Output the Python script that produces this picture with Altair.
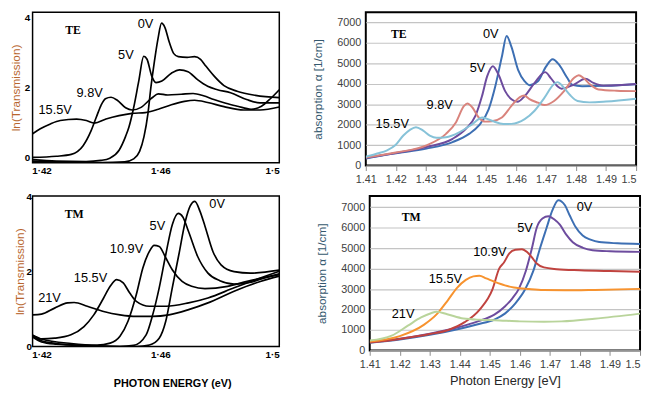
import altair as alt
import pandas as pd

# ---------------- TE transmission (left, top) ----------------
te_tr_0v_x = [1.417, 1.43, 1.44, 1.448, 1.451, 1.453, 1.4545, 1.4558, 1.4568, 1.458, 1.4592, 1.4604, 1.4615, 1.463, 1.4645, 1.466, 1.469, 1.4715, 1.4735, 1.4748, 1.4765, 1.4781, 1.4814, 1.4858, 1.492, 1.5]
te_tr_0v_y = [0.04, 0.01, 0.0, 0.02, 0.1, 0.3, 0.7, 1.3, 2.0, 2.7, 3.3, 3.71, 3.6, 3.2, 2.9, 2.82, 2.8, 2.82, 2.75, 2.62, 2.45, 2.3, 2.05, 1.9, 1.79, 1.73]
te_tr_5v_x = [1.417, 1.425, 1.435, 1.44, 1.443, 1.4461, 1.4483, 1.4494, 1.451, 1.4527, 1.4544, 1.4555, 1.4571, 1.4585, 1.4605, 1.4637, 1.4665, 1.4693, 1.4726, 1.4759, 1.4792, 1.4836, 1.489, 1.4935, 1.5]
te_tr_5v_y = [0.08, 0.04, 0.03, 0.06, 0.12, 0.33, 0.7, 0.94, 1.46, 2.16, 2.83, 2.75, 2.3, 2.13, 2.17, 2.38, 2.47, 2.42, 2.2, 2.03, 1.94, 1.86, 1.68, 1.59, 1.59]
te_tr_98v_x = [1.417, 1.425, 1.43, 1.434, 1.4367, 1.4384, 1.44, 1.4415, 1.4434, 1.4455, 1.4483, 1.4505, 1.4535, 1.4571, 1.4593, 1.4625, 1.467, 1.471, 1.4745, 1.478, 1.482, 1.486, 1.4905, 1.494, 1.497, 1.5]
te_tr_98v_y = [0.14, 0.17, 0.22, 0.45, 0.85, 1.2, 1.52, 1.7, 1.74, 1.66, 1.46, 1.4, 1.47, 1.72, 1.83, 1.8, 1.82, 1.84, 1.78, 1.68, 1.58, 1.5, 1.42, 1.5, 1.7, 1.94]
te_tr_155v_x = [1.417, 1.4196, 1.423, 1.4263, 1.4318, 1.4351, 1.4378, 1.4417, 1.4461, 1.4505, 1.4549, 1.4593, 1.4637, 1.4681, 1.4715, 1.4759, 1.4814, 1.488, 1.4935, 1.5]
te_tr_155v_y = [0.77, 0.9, 1.03, 1.12, 1.16, 1.12, 1.05, 1.16, 1.25, 1.31, 1.33, 1.42, 1.54, 1.63, 1.66, 1.6, 1.49, 1.4, 1.4, 1.48]

# ---------------- TM transmission (left, bottom) ----------------
tm_tr_0v_x = [1.417, 1.42, 1.425, 1.435, 1.445, 1.452, 1.4563, 1.4596, 1.4618, 1.464, 1.4662, 1.4684, 1.47, 1.4716, 1.4733, 1.475, 1.4777, 1.4804, 1.4848, 1.4903, 1.5]
tm_tr_0v_y = [0.25, 0.12, 0.06, 0.02, 0.0, 0.0, 0.04, 0.22, 0.67, 1.56, 2.44, 3.33, 3.73, 3.86, 3.6, 3.2, 2.52, 2.17, 1.99, 1.95, 2.03]
tm_tr_5v_x = [1.417, 1.42, 1.425, 1.435, 1.4464, 1.451, 1.4552, 1.4574, 1.4596, 1.4618, 1.464, 1.466, 1.4675, 1.4695, 1.4725, 1.476, 1.48, 1.4848, 1.49, 1.495, 1.5]
tm_tr_5v_y = [0.28, 0.15, 0.08, 0.03, 0.0, 0.03, 0.31, 0.84, 1.56, 2.44, 3.24, 3.54, 3.45, 3.05, 2.4, 1.95, 1.75, 1.66, 1.7, 1.82, 1.93]
tm_tr_109v_x = [1.417, 1.42, 1.43, 1.4387, 1.4431, 1.4464, 1.4491, 1.4519, 1.4541, 1.4563, 1.4579, 1.4596, 1.4618, 1.464, 1.4673, 1.4705, 1.475, 1.4826, 1.4892, 1.5]
tm_tr_109v_y = [0.3, 0.2, 0.08, 0.04, 0.09, 0.27, 0.67, 1.38, 2.09, 2.53, 2.69, 2.66, 2.36, 2.04, 1.73, 1.6, 1.54, 1.6, 1.73, 1.91]
tm_tr_155v_x = [1.417, 1.42, 1.4244, 1.4299, 1.4343, 1.4376, 1.4409, 1.4431, 1.4453, 1.4475, 1.4497, 1.4519, 1.4563, 1.462, 1.4695, 1.476, 1.4848, 1.4936, 1.5]
tm_tr_155v_y = [0.3, 0.2, 0.22, 0.31, 0.53, 0.84, 1.29, 1.6, 1.78, 1.69, 1.42, 1.2, 1.07, 1.07, 1.16, 1.29, 1.56, 1.82, 2.0]
tm_tr_21v_x = [1.417, 1.42, 1.4244, 1.4288, 1.431, 1.4354, 1.4409, 1.4464, 1.4519, 1.4574, 1.4629, 1.4695, 1.476, 1.4848, 1.4936, 1.5]
tm_tr_21v_y = [0.84, 0.86, 1.02, 1.16, 1.17, 1.07, 0.93, 0.84, 0.8, 0.8, 0.84, 0.98, 1.16, 1.47, 1.73, 1.87]

# ---------------- TE absorption (right, top) ----------------
te_ab_0v_x = [1.41, 1.4193, 1.4302, 1.4389, 1.4444, 1.4476, 1.4509, 1.4531, 1.4553, 1.4569, 1.4585, 1.4607, 1.4629, 1.4645, 1.4673, 1.47, 1.4722, 1.4744, 1.4771, 1.4787, 1.482, 1.49, 1.5]
te_ab_0v_y = [350, 590, 830, 1150, 1550, 1950, 2750, 3870, 5320, 6330, 5800, 4680, 4120, 3930, 4120, 4840, 5200, 4920, 4280, 3950, 3880, 3900, 3980]
te_ab_5v_x = [1.41, 1.42, 1.4302, 1.4389, 1.4433, 1.4465, 1.4487, 1.4504, 1.4523, 1.4542, 1.4564, 1.4585, 1.4605, 1.4629, 1.4662, 1.4697, 1.4716, 1.4738, 1.4752, 1.4793, 1.4831, 1.4858, 1.4891, 1.5]
te_ab_5v_y = [380, 620, 910, 1310, 1800, 2430, 3400, 4360, 4860, 4440, 3640, 3240, 3120, 3400, 4040, 4570, 4280, 3880, 3760, 3960, 4245, 4040, 3910, 3990]
te_ab_98v_x = [1.41, 1.42, 1.4302, 1.4367, 1.44, 1.4427, 1.4438, 1.4455, 1.4476, 1.4498, 1.452, 1.4553, 1.4585, 1.4613, 1.4627, 1.4645, 1.4673, 1.4695, 1.4727, 1.476, 1.4793, 1.4809, 1.4825, 1.4847, 1.4875, 1.4935, 1.5]
te_ab_98v_y = [400, 640, 990, 1550, 2110, 2915, 3040, 2840, 2350, 2150, 2170, 2350, 2915, 3350, 3430, 3250, 3075, 2960, 3160, 3640, 4280, 4420, 4280, 3960, 3720, 3660, 3640]
te_ab_155v_x = [1.41, 1.4138, 1.4171, 1.4198, 1.4225, 1.4247, 1.4267, 1.4291, 1.4313, 1.4335, 1.4367, 1.4411, 1.4455, 1.4488, 1.452, 1.4558, 1.4585, 1.4629, 1.4662, 1.4695, 1.4725, 1.4738, 1.476, 1.478, 1.4805, 1.4845, 1.49, 1.5]
te_ab_155v_y = [430, 590, 750, 990, 1470, 1750, 1880, 1710, 1470, 1360, 1390, 1630, 2030, 2350, 2190, 2030, 2040, 2270, 2680, 3320, 3960, 4080, 3800, 3450, 3160, 3090, 3130, 3270]

# ---------------- TM absorption (right, bottom) ----------------
tm_ab_0v_x = [1.41, 1.42, 1.43, 1.44, 1.446, 1.4515, 1.455, 1.4585, 1.4618, 1.4645, 1.4667, 1.4689, 1.4708, 1.4728, 1.475, 1.4766, 1.4785, 1.4809, 1.4835, 1.4864, 1.4925, 1.5]
tm_ab_0v_y = [370, 530, 760, 1060, 1280, 1510, 1800, 2300, 3000, 3900, 5000, 6000, 6850, 7350, 7100, 6600, 6050, 5620, 5420, 5300, 5240, 5210]
tm_ab_5v_x = [1.41, 1.42, 1.43, 1.44, 1.446, 1.4515, 1.455, 1.4575, 1.4596, 1.462, 1.464, 1.4656, 1.4675, 1.4695, 1.4715, 1.4733, 1.4755, 1.4776, 1.481, 1.4842, 1.49, 1.5]
tm_ab_5v_y = [400, 570, 820, 1150, 1420, 1750, 2150, 2550, 3000, 3900, 5000, 6000, 6450, 6560, 6400, 6150, 5650, 5290, 5020, 4900, 4850, 4820]
tm_ab_109v_x = [1.41, 1.42, 1.43, 1.4362, 1.4416, 1.4466, 1.4509, 1.4531, 1.4547, 1.4565, 1.4585, 1.4607, 1.4624, 1.464, 1.4656, 1.468, 1.4722, 1.48, 1.49, 1.5]
tm_ab_109v_y = [380, 560, 800, 1000, 1380, 2000, 3000, 4000, 4300, 4750, 4920, 4950, 4810, 4550, 4250, 4060, 3975, 3920, 3880, 3850]
tm_ab_155v_x = [1.41, 1.42, 1.428, 1.4325, 1.436, 1.439, 1.442, 1.4445, 1.4465, 1.4488, 1.4515, 1.455, 1.458, 1.463, 1.4678, 1.475, 1.485, 1.5]
tm_ab_155v_y = [430, 700, 1250, 1800, 2450, 3050, 3450, 3620, 3650, 3520, 3360, 3180, 3080, 3000, 2950, 2940, 2960, 3010]
tm_ab_21v_x = [1.41, 1.4173, 1.4227, 1.4271, 1.4304, 1.4322, 1.4358, 1.4412, 1.4467, 1.4515, 1.46, 1.468, 1.4739, 1.4848, 1.5]
tm_ab_21v_y = [480, 720, 1210, 1610, 1820, 1890, 1770, 1560, 1500, 1480, 1420, 1400, 1420, 1550, 1800]

# ---------------- annotations ----------------
te_tr_lab_t = ["0V", "5V", "9.8V", "15.5V"]
te_tr_lab_x = [1.455, 1.4484, 1.4362, 1.4246]
te_tr_lab_y = [3.69, 2.85, 1.86, 1.39]
tm_tr_lab_t = ["0V", "5V", "10.9V", "15.5V", "21V"]
tm_tr_lab_x = [1.4791, 1.459, 1.4486, 1.4365, 1.4227]
tm_tr_lab_y = [3.78, 3.2, 2.58, 1.82, 1.29]
te_ab_lab_t = ["0V", "5V", "9.8V", "15.5V"]
te_ab_lab_x = [1.4516, 1.4472, 1.4346, 1.4188]
te_ab_lab_y = [6440, 4790, 2945, 2030]
tm_ab_lab_t = ["0V", "5V", "10.9V", "15.5V", "21V"]
tm_ab_lab_x = [1.4815, 1.4617, 1.45, 1.4352, 1.4211]
tm_ab_lab_y = [7000, 6000, 4830, 3490, 1770]

pol_te_tr = (1.4306, 3.53)
pol_tm_tr = (1.431, 3.51)
pol_te_ab = (1.421, 6405)
pol_tm_ab = (1.4238, 6516)

abs_x_ticks = [1.41, 1.42, 1.43, 1.44, 1.45, 1.46, 1.47, 1.48, 1.49, 1.5]
abs_y_ticks = [0, 1000, 2000, 3000, 4000, 5000, 6000, 7000]
tr_x_ticks = [1.42, 1.46, 1.5]
tr_y_ticks = [0, 2, 4]

te_colors = ["#3d6fb3", "#6d4c9e", "#d9837c", "#86c2d8"]
tm_colors = ["#3d6fb3", "#6d4c9e", "#c0433f", "#f7932f", "#b9d49b"]


def frame(series, colors=None):
    rows = []
    for i, (name, xs, ys) in enumerate(series):
        col = colors[i] if colors else "black"
        for x, y in zip(xs, ys):
            rows.append({"series": name, "col": col, "x": x, "y": y})
    return pd.DataFrame(rows)


def labels(ts, xs, ys):
    return pd.DataFrame({"t": ts, "x": xs, "y": ys})


def overlays(lab, pol, pol_txt, xenc, yenc):
    txt = alt.Chart(lab).mark_text(font="Liberation Sans", fontSize=13, color="black").encode(
        x=xenc, y=yenc, text="t:N")
    ptxt = alt.Chart(pd.DataFrame({"t": [pol_txt], "x": [pol[0]], "y": [pol[1]]})).mark_text(
        font="Liberation Serif", fontWeight="bold", fontSize=12, color="black").encode(
        x=xenc, y=yenc, text="t:N")
    return txt, ptxt


def trans_panel(df, lab, pol, pol_txt, w, h, tpad, lpad, xtitle, yflush):
    xs = alt.Scale(domain=[1.417, 1.5], nice=False, zero=False)
    ys = alt.Scale(domain=[0, 4], nice=False)
    xaxis = alt.Axis(values=tr_x_ticks, labelExpr="replace(format(datum.value, '.2~f'), '.', '·')",
                     labelFlush=True, labelOverlap=False, domain=False, ticks=False, grid=False,
                     labelFont="Liberation Sans", labelFontWeight="bold", labelFontSize=10,
                     labelColor="black", labelPadding=3,
                     title=xtitle if xtitle else None,
                     titleFont="Liberation Sans", titleFontSize=11, titleFontWeight="bold",
                     titleColor="black", titlePadding=19, titleX=142)
    yaxis = alt.Axis(values=tr_y_ticks, domain=False, ticks=False, grid=False, labelOverlap=False,
                     labelFlush=yflush,
                     labelFont="Liberation Sans", labelFontWeight="bold", labelFontSize=10,
                     labelColor="black", labelPadding=lpad,
                     title="ln(Transmission)", titleFont="Liberation Sans", titleFontSize=12,
                     titleFontWeight="normal", titleColor="#b8662e", titlePadding=tpad)
    xenc = alt.X("x:Q", scale=xs, axis=xaxis)
    yenc = alt.Y("y:Q", scale=ys, axis=yaxis)
    lines = alt.Chart(df).mark_line(color="black", strokeWidth=1.7, interpolate="monotone", clip=True).encode(
        x=xenc, y=yenc, detail="series:N")
    txt, ptxt = overlays(lab, pol, pol_txt, xenc, yenc)
    return alt.layer(lines, txt, ptxt).properties(
        width=w, height=h, view=alt.ViewBackground(stroke="black", strokeWidth=1.5))


def abs_panel(df, lab, pol, pol_txt, w, h, ymax, xtitle):
    xs = alt.Scale(domain=[1.41, 1.5], nice=False, zero=False)
    ys = alt.Scale(domain=[0, ymax], nice=False)
    xaxis = alt.Axis(values=abs_x_ticks, labelExpr="format(datum.value, '.2~f')", labelOverlap=False,
                     labelFlush=False,
                     labelAlign={"condition": {"test": "datum.value >= 1.499", "value": "right"},
                                 "value": "center"},
                     domain=False, ticks=True, tickSize=5, tickColor="#8c8c8c", grid=False,
                     labelFont="Liberation Sans", labelFontSize=11, labelColor="#404040", labelPadding=3,
                     title=xtitle if xtitle else None,
                     titleFont="Liberation Sans", titleFontSize=13, titleFontWeight="normal",
                     titleColor="#262626", titlePadding=6)
    yaxis = alt.Axis(values=abs_y_ticks, format="d", labelOverlap=False, domain=False, ticks=False, grid=True,
                     gridColor="#c4c4c4", gridWidth=1.2,
                     labelFont="Liberation Sans", labelFontSize=11, labelColor="#404040", labelPadding=5,
                     title="absorption α [1/cm]", titleFont="Liberation Sans", titleFontSize=12,
                     titleFontWeight="normal", titleColor="#34586e", titlePadding=13)
    xenc = alt.X("x:Q", scale=xs, axis=xaxis)
    yenc = alt.Y("y:Q", scale=ys, axis=yaxis)
    lines = alt.Chart(df).mark_line(strokeWidth=2, interpolate="monotone", clip=True).encode(
        x=xenc, y=yenc, color=alt.Color("col:N", scale=None), detail="series:N")
    txt, ptxt = overlays(lab, pol, pol_txt, xenc, yenc)
    return alt.layer(lines, txt, ptxt).properties(
        width=w, height=h, view=alt.ViewBackground(stroke="black", strokeWidth=2))


te_tr_df = frame([("0V", te_tr_0v_x, te_tr_0v_y), ("5V", te_tr_5v_x, te_tr_5v_y),
                  ("9.8V", te_tr_98v_x, te_tr_98v_y), ("15.5V", te_tr_155v_x, te_tr_155v_y)])
tm_tr_df = frame([("0V", tm_tr_0v_x, tm_tr_0v_y), ("5V", tm_tr_5v_x, tm_tr_5v_y),
                  ("10.9V", tm_tr_109v_x, tm_tr_109v_y), ("15.5V", tm_tr_155v_x, tm_tr_155v_y),
                  ("21V", tm_tr_21v_x, tm_tr_21v_y)])
te_ab_df = frame([("0V", te_ab_0v_x, te_ab_0v_y), ("5V", te_ab_5v_x, te_ab_5v_y),
                  ("9.8V", te_ab_98v_x, te_ab_98v_y), ("15.5V", te_ab_155v_x, te_ab_155v_y)], te_colors)
tm_ab_df = frame([("0V", tm_ab_0v_x, tm_ab_0v_y), ("5V", tm_ab_5v_x, tm_ab_5v_y),
                  ("10.9V", tm_ab_109v_x, tm_ab_109v_y), ("15.5V", tm_ab_155v_x, tm_ab_155v_y),
                  ("21V", tm_ab_21v_x, tm_ab_21v_y)], tm_colors)

tl = trans_panel(te_tr_df, labels(te_tr_lab_t, te_tr_lab_x, te_tr_lab_y), pol_te_tr, "TE",
                 251, 153, 2, 3, None, True)
tr = abs_panel(te_ab_df, labels(te_ab_lab_t, te_ab_lab_x, te_ab_lab_y), pol_te_ab, "TE",
               275, 156, 7495, None)
bl = trans_panel(tm_tr_df, labels(tm_tr_lab_t, tm_tr_lab_x, tm_tr_lab_y), pol_tm_tr, "TM",
                 251, 153, 0, 1, "PHOTON ENERGY (eV)", False)
br = abs_panel(tm_ab_df, labels(tm_ab_lab_t, tm_ab_lab_x, tm_ab_lab_y), pol_tm_ab, "TM",
               275, 157, 7550, "Photon Energy [eV]")

top = alt.hconcat(tl, tr, spacing=30)
bottom = alt.hconcat(bl, br, spacing=34)
chart = alt.vconcat(top, bottom, spacing=5).properties(
    padding={"left": 0, "top": 0, "right": 0, "bottom": 0}
).configure(background="white")

chart.save("out.html", embed_options={"renderer": "svg", "actions": False})
